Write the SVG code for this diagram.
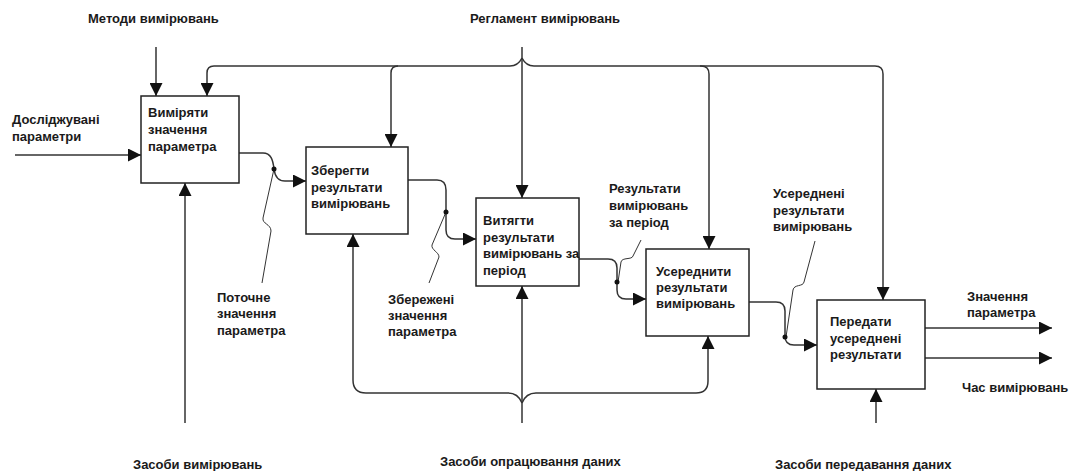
<svg xmlns="http://www.w3.org/2000/svg" width="1069" height="471" viewBox="0 0 1069 471">
  <defs>
    <marker id="arrow" markerUnits="userSpaceOnUse" markerWidth="13" markerHeight="13" refX="13" refY="6.5" orient="auto">
      <path d="M0,0 L13,6.5 L0,13 Z" fill="#111"/>
    </marker>
    <style>
      text { font-family: "Liberation Sans", Arial, sans-serif; font-weight: bold; font-size: 13px; fill: #1a1a1a; }
      .box { fill: #fff; stroke: #222; stroke-width: 1.5; }
      .flow { fill: none; stroke: #333; stroke-width: 1.5; }
      .arr { marker-end: url(#arrow); }
      .squiggle { fill: none; stroke: #333; stroke-width: 1; }
      .dot { fill: #111; }
    </style>
  </defs>
  <rect width="1069" height="471" fill="#fff"/>

  <!-- connectors -->
  <g id="connectors">
    <!-- inputs, controls, mechanisms -->
    <path class="flow arr" d="M15,155 H141"/>
    <path class="flow arr" d="M156,47 V96"/>
    <path class="flow arr" d="M522,47 V198"/>
    <!-- control bus (left branch) -->
    <path class="flow arr" d="M522,58 Q518,66 510,66 H214 Q207,66 207,73 V96"/>
    <path class="flow arr" d="M398,66 Q391,66 391,73 V147"/>
    <!-- control bus (right branch) -->
    <path class="flow arr" d="M522,58 Q526,66 534,66 H701 Q709,66 709,74 V249"/>
    <path class="flow arr" d="M700,66 H875 Q883,66 883,74 V300"/>
    <!-- mechanisms -->
    <path class="flow arr" d="M185,423 V183"/>
    <path class="flow arr" d="M522,403 Q518,393 508,393 H366 Q353,393 353,380 V234"/>
    <path class="flow arr" d="M522,403 Q526,393 536,393 H696 Q708,393 708,381 V336"/>
    <path class="flow arr" d="M522,423 V286"/>
    <path class="flow arr" d="M876,423 V389"/>
    <!-- box-to-box flows -->
    <path class="flow arr" d="M239,153 H263 C271,153 273,160 274,169 C275,177 278,181 285,181 H306"/>
    <path class="flow arr" d="M408,180 H437 Q446,180 446,190 V230 Q446,239 455,239 H476"/>
    <path class="flow arr" d="M579,259 H608 Q617,259 617,268 V290 Q617,299 626,299 H646"/>
    <path class="flow arr" d="M749,302 H776 Q785,302 785,311 V336 Q785,345 794,345 H817"/>
    <!-- outputs -->
    <path class="flow arr" d="M925,328 H1052"/>
    <path class="flow arr" d="M925,358 H1052"/>
    <!-- label squiggles -->
    <path class="squiggle" d="M274,169 L263,218 C262,224 271,224 271,231 L262,283"/>
    <path class="squiggle" d="M446,212 L432,245 C431,250 439,252 439,257 L429,283"/>
    <path class="squiggle" d="M618,282 L621,262 C622,257 632,260 633,256 L641,240"/>
    <path class="squiggle" d="M786,337 L793,290 C794,284 803,287 804,282 L815,241"/>
    <circle class="dot" cx="274" cy="169" r="2.5"/>
    <circle class="dot" cx="446" cy="212" r="2.5"/>
    <circle class="dot" cx="617" cy="282" r="2.5"/>
    <circle class="dot" cx="785" cy="337" r="2.5"/>
  </g>

  <!-- activity boxes -->
  <g id="node-measure">
    <rect class="box" x="141" y="96" width="98" height="87"/>
    <text x="148" y="117">Виміряти</text>
    <text x="148" y="134">значення</text>
    <text x="148" y="151">параметра</text>
  </g>
  <g id="node-store">
    <rect class="box" x="306" y="147" width="102" height="87"/>
    <text x="311" y="175">Зберегти</text>
    <text x="311" y="192">результати</text>
    <text x="311" y="208">вимірювань</text>
  </g>
  <g id="node-extract">
    <rect class="box" x="476" y="198" width="103" height="88"/>
    <text x="483" y="225">Витягти</text>
    <text x="483" y="242">результати</text>
    <text x="483" y="258">вимірювань за</text>
    <text x="483" y="275">період</text>
  </g>
  <g id="node-average">
    <rect class="box" x="646" y="249" width="103" height="87"/>
    <text x="656" y="276">Усереднити</text>
    <text x="656" y="292">результати</text>
    <text x="656" y="308">вимірювань</text>
  </g>
  <g id="node-transmit">
    <rect class="box" x="817" y="300" width="108" height="89"/>
    <text x="830" y="326">Передати</text>
    <text x="830" y="343">усереднені</text>
    <text x="830" y="359">результати</text>
  </g>

  <!-- arrow labels -->
  <g id="labels">
    <text x="88" y="23">Методи вимірювань</text>
    <text x="470" y="23">Регламент вимірювань</text>
    <text x="12" y="124">Досліджувані</text>
    <text x="12" y="141">параметри</text>
    <text x="217" y="302">Поточне</text>
    <text x="217" y="318">значення</text>
    <text x="217" y="335">параметра</text>
    <text x="388" y="304">Збережені</text>
    <text x="388" y="320">значення</text>
    <text x="388" y="336">параметра</text>
    <text x="609" y="193">Результати</text>
    <text x="609" y="210">вимірювань</text>
    <text x="609" y="227">за період</text>
    <text x="773" y="198">Усереднені</text>
    <text x="773" y="215">результати</text>
    <text x="773" y="231">вимірювань</text>
    <text x="967" y="301">Значення</text>
    <text x="967" y="317">параметра</text>
    <text x="962" y="392">Час вимірювань</text>
    <text x="133" y="469">Засоби вимірювань</text>
    <text x="440" y="466">Засоби опрацювання даних</text>
    <text x="775" y="469">Засоби передавання даних</text>
  </g>
</svg>
